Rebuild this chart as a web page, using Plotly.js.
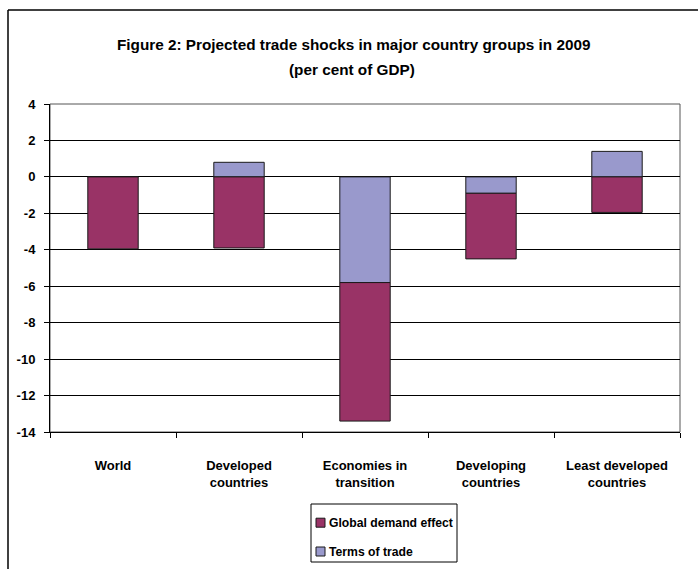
<!DOCTYPE html>
<html>
<head>
<meta charset="utf-8">
<script src="https://cdn.plot.ly/plotly-3.0.1.min.js"></script>
<style>
html,body{margin:0;padding:0;background:#fff;}
#chart{width:698px;height:569px;}
</style>
</head>
<body>
<div id="chart"></div>
<script>
const categories = ["World", "Developed<br>countries", "Economies in<br>transition", "Developing<br>countries", "Least developed<br>countries"];
const globalDemand = [-3.95, -3.9, -7.6, -3.6, -1.95];
const termsOfTrade = [0.0, 0.8, -5.8, -0.9, 1.4];
const yTicks = [4, 2, 0, -2, -4, -6, -8, -10, -12, -14];
const seriesNames = ["Global demand effect", "Terms of trade"];
const seriesColors = ["#993366", "#9999CC"];
const titleLines = ["Figure 2: Projected trade shocks in major country groups in 2009", "(per cent of GDP)"];

const FONT = "'Liberation Sans', Arial, sans-serif";

const W = 698, H = 569;
const L = 50, R = 18, T = 104, B = 137;
const pw = W - L - R, ph = H - T - B;
const px = x => (x - L) / pw;
const py = y => (H - B - y) / ph;

const traces = [
  {
    type: 'bar', name: seriesNames[1], x: categories, y: termsOfTrade,
    marker: {color: seriesColors[1], line: {color: '#1a1a1a', width: 1}},
    showlegend: false, hoverinfo: 'x+y'
  },
  {
    type: 'bar', name: seriesNames[0], x: categories, y: globalDemand,
    marker: {color: seriesColors[0], line: {color: '#1a1a1a', width: 1}},
    showlegend: false, hoverinfo: 'x+y'
  }
];

// Legend (drawn manually to match the compact Excel-style legend)
const legBox = {x0: 311, x1: 457, y0: 504, y1: 562};
const legRows = [522.7, 551.5];
const shapes = [
  {type: 'rect', xref: 'paper', yref: 'paper', x0: 0, x1: 1, y0: 0, y1: 1,
   line: {color: '#555', width: 1}, layer: 'below'},
  {type: 'line', xref: 'paper', yref: 'paper', x0: px(8), x1: px(8), y0: py(10), y1: py(H + 2),
   line: {color: '#000', width: 1.5}},
  {type: 'line', xref: 'paper', yref: 'paper', x0: px(8), x1: px(W + 2), y0: py(10), y1: py(10),
   line: {color: '#000', width: 1.5}},
  {type: 'rect', xref: 'paper', yref: 'paper', x0: px(legBox.x0), x1: px(legBox.x1), y0: py(legBox.y0), y1: py(legBox.y1),
   line: {color: '#000', width: 1}, fillcolor: '#fff'}
];
const annotations = [
  {text: '<b>' + titleLines[0] + '</b>', xref: 'paper', yref: 'paper', x: px(353), y: py(44),
   xanchor: 'center', yanchor: 'middle', showarrow: false, font: {family: FONT, size: 15.3, color: '#000'}},
  {text: '<b>' + titleLines[1] + '</b>', xref: 'paper', yref: 'paper', x: px(352), y: py(69),
   xanchor: 'center', yanchor: 'middle', showarrow: false, font: {family: FONT, size: 15.3, color: '#000'}}
];
seriesNames.forEach((n, i) => {
  const cy = legRows[i];
  shapes.push({type: 'rect', xref: 'paper', yref: 'paper',
    x0: px(316), x1: px(325), y0: py(cy - 4.5), y1: py(cy + 4.5),
    line: {color: '#1a1a1a', width: 1}, fillcolor: seriesColors[i]});
  annotations.push({text: '<b>' + n + '</b>', xref: 'paper', yref: 'paper',
    x: px(327), y: py(cy), xanchor: 'left', yanchor: 'middle', showarrow: false,
    font: {family: FONT, size: 12.2, color: '#000'}});
});

const layout = {
  width: W, height: H,
  margin: {l: L, r: R, t: T, b: B, pad: 0},
  paper_bgcolor: '#fff', plot_bgcolor: '#fff',
  barmode: 'relative', bargap: 0.6,
  font: {family: FONT, size: 12, color: '#000'},
  showlegend: false,
  xaxis: {
    type: 'category', automargin: false,
    showgrid: false, zeroline: false,
    showline: true, linecolor: '#000', linewidth: 1,
    ticks: 'outside', tickson: 'boundaries', ticklen: 5, tickcolor: '#000',
    tickfont: {family: FONT, size: 13, color: '#000', weight: 'bold'},
    ticklabelstandoff: 21,
    fixedrange: true
  },
  yaxis: {
    automargin: false,
    range: [-14, 4], tickvals: yTicks, ticktext: yTicks.map(String),
    showgrid: true, gridcolor: '#000', gridwidth: 1,
    zeroline: false,
    showline: true, linecolor: '#000', linewidth: 1,
    ticks: 'outside', ticklen: 5, tickcolor: '#000',
    tickfont: {family: FONT, size: 13, color: '#000', weight: 'bold'},
    ticklabelstandoff: 6,
    fixedrange: true
  },
  shapes: shapes,
  annotations: annotations
};

Plotly.newPlot('chart', traces, layout, {displayModeBar: false, staticPlot: true});
</script>
</body>
</html>
